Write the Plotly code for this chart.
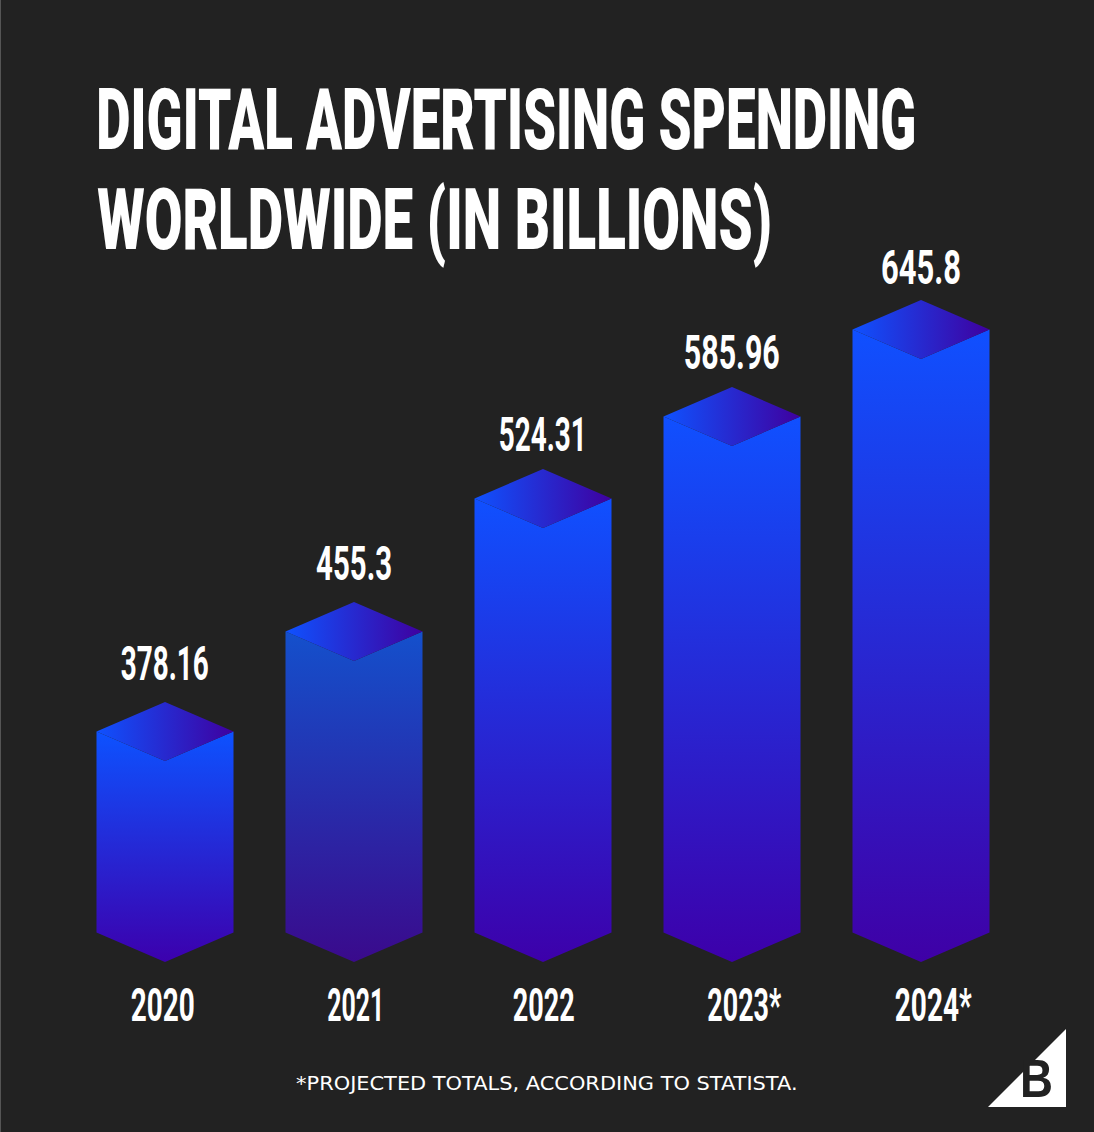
import json
import plotly.graph_objects as go

# Values and labels
years = ["2020", "2021", "2022", "2023*", "2024*"]
value_labels = ["378.16", "455.3", "524.31", "585.96", "645.8"]
# The drawn bars are not to scale with their labels, so heights are read separately
bar_heights = [201, 301, 434, 516, 603]
top_colors = ["#0d52ff", "#1450cc", "#1050ff", "#1050ff", "#1050ff"]
bottom_colors = ["#3c00ad", "#3a0a8c", "#3d00aa", "#3d00aa", "#3f00a6"]

title_lines = ["DIGITAL ADVERTISING SPENDING", "WORLDWIDE (IN BILLIONS)"]
footnote = "*PROJECTED TOTALS, ACCORDING TO STATISTA."

# Widths the texts take in the picture. The condensed face is not installed,
# so the page squeezes a normal face to these widths.
text_widths = {
    title_lines[0]: 820, title_lines[1]: 675, footnote: 502, "B": 33,
    "378.16": 88, "455.3": 76, "524.31": 88, "585.96": 96, "645.8": 80,
    "2020": 64, "2021": 57, "2022": 62, "2023*": 74, "2024*": 77,
}

W, H = 1094, 1132
BG = "#222222"
TEXT_FONT = "Roboto"
BASE_Y = 962  # pixel row of height 0
X0, STEP = 165, 189  # pixel centre of first bar, spacing between bars
half = 68.5 / STEP
depth = 29.5
label_gaps = [39, 39, 35, 35, 33]
year_shifts = [-2, 2, 1, 12, 12]

fig = go.Figure()

for i, h in enumerate(bar_heights):
    # front faces
    fig.add_trace(go.Scatter(
        x=[i - half, i, i + half, i + half, i, i - half, i - half],
        y=[h + depth, h, h + depth, depth, 0, depth, h + depth],
        mode="none", fill="toself", hoverinfo="skip", showlegend=False,
        fillgradient=dict(type="vertical", colorscale=[[0, bottom_colors[i]], [1, top_colors[i]]]),
    ))
    # top diamond
    fig.add_trace(go.Scatter(
        x=[i - half, i, i + half, i, i - half],
        y=[h + depth, h + 2 * depth, h + depth, h, h + depth],
        mode="none", fill="toself", hoverinfo="skip", showlegend=False,
        fillgradient=dict(type="horizontal", colorscale=[[0, "#0f52ff"], [1, "#3f009f"]]),
    ))
    fig.add_annotation(x=i, y=h + 2 * depth + label_gaps[i], text=value_labels[i], showarrow=False,
                       font=dict(family=TEXT_FONT, size=48, color="white", weight="bold"))
    fig.add_annotation(x=i, y=-43, text=years[i], showarrow=False, xshift=year_shifts[i],
                       font=dict(family=TEXT_FONT, size=46, color="white", weight="bold"))

# Title
for line, cx, py in [(title_lines[0], 506, 120), (title_lines[1], 434.5, 219)]:
    fig.add_annotation(x=cx / W, y=1 - py / H, xref="paper", yref="paper",
                       xanchor="center", yanchor="middle", text=line, showarrow=False,
                       font=dict(family=TEXT_FONT, size=86, color="white", weight=900))

# Footnote
fig.add_annotation(x=547 / W, y=1 - 1083 / H, xref="paper", yref="paper",
                   xanchor="center", yanchor="middle", text=footnote, showarrow=False,
                   font=dict(family="DejaVu Sans", size=19, color="white"))

# Logo
fig.add_shape(type="path", xref="paper", yref="paper", fillcolor="white", line_width=0, layer="below",
              path=f"M {988 / W} {1 - 1107 / H} L {1066 / W} {1 - 1107 / H} L {1066 / W} {1 - 1029 / H} Z")
fig.add_annotation(x=1036.5 / W, y=1 - 1077.5 / H, xref="paper", yref="paper",
                   xanchor="center", yanchor="middle", text="B", showarrow=False,
                   font=dict(family="Liberation Sans", size=54, color=BG, weight="bold"))

# thin grey strip down the left edge
fig.add_shape(type="rect", xref="paper", yref="paper", x0=0, x1=1 / W, y0=0, y1=1,
              fillcolor="#555555", line_width=0)

fig.update_layout(
    width=W, height=H, margin=dict(l=0, r=0, t=0, b=0),
    paper_bgcolor=BG, plot_bgcolor=BG, showlegend=False,
    xaxis=dict(visible=False, range=[-X0 / STEP, (W - X0) / STEP]),
    yaxis=dict(visible=False, range=[BASE_Y - H, BASE_Y]),
)

squeeze = """
document.body.style.margin = '0';
var widths = %s;
document.querySelectorAll('.annotation-text').forEach(function (t) {
    var w = widths[t.textContent];
    if (w) {
        var b = t.getBBox();
        var cx = b.x + b.width / 2;
        t.setAttribute('transform', 'translate(' + cx + ',0) scale(' + w / b.width + ',1) translate(' + -cx + ',0)');
    }
});
""" % json.dumps(text_widths)

fig.write_html("out.html", post_script=squeeze, config={"displayModeBar": False})
